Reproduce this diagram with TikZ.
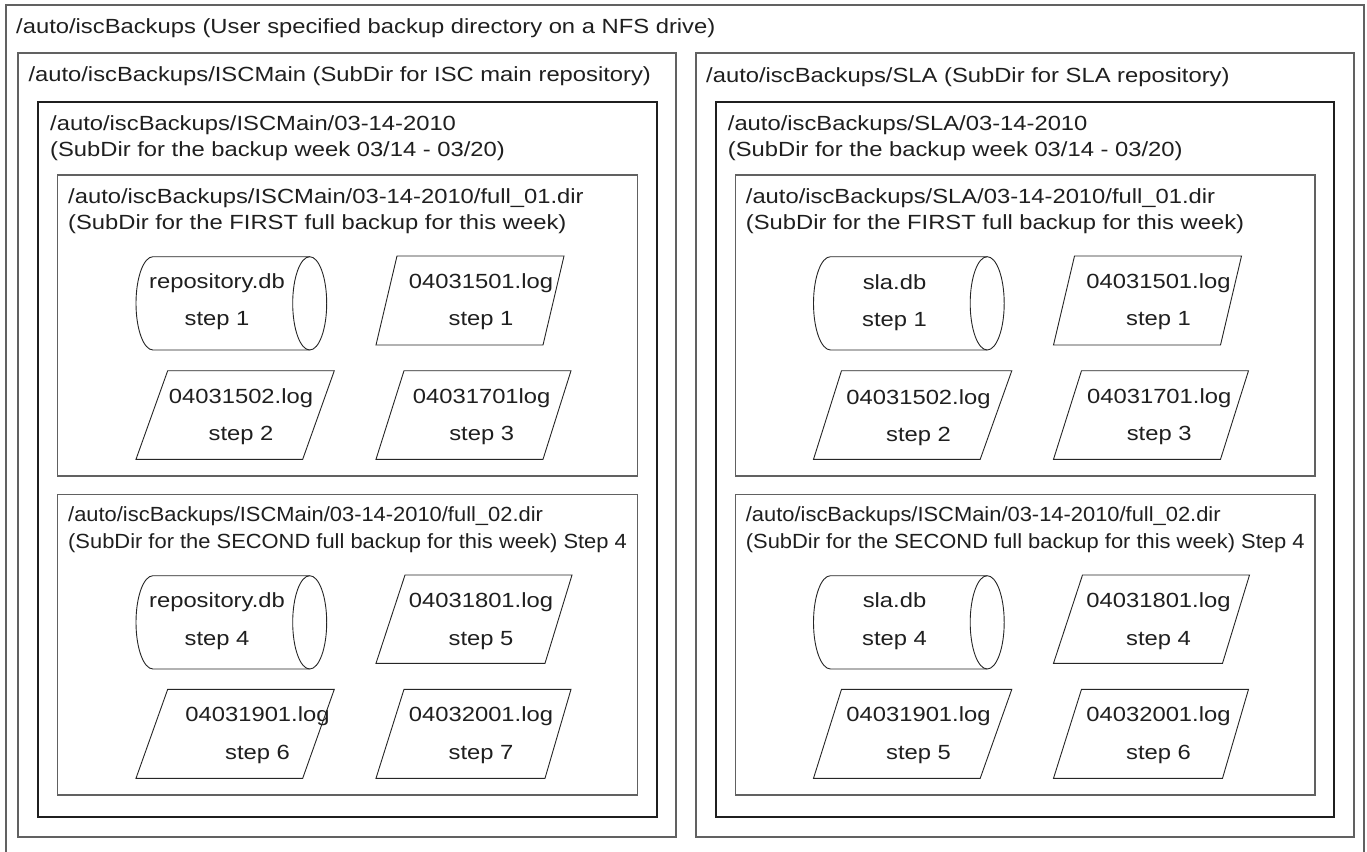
\documentclass[tikz,border=0pt]{standalone}
\usepackage{graphicx}
\usepackage{fontspec}
\setmainfont[FakeStretch=1.16]{Liberation Sans}
\newcommand\narrowtext[1]{\scalebox{0.921}[1]{#1}}
\begin{document}
\begin{tikzpicture}[x=1pt,y=-1pt,
  thinbox/.style={draw=black!62,line width=1.2pt},
  weekbox/.style={draw=black!88,line width=2.6pt},
  outline/.style={draw=black!85,line width=0.9pt},
  lt/.style={anchor=base west,inner sep=0pt,text=black!88,font=\fontsize{20.5}{24}\selectfont},
  ct/.style={anchor=base,inner sep=0pt,text=black!88,font=\fontsize{20.5}{24}\selectfont}]
\useasboundingbox (0,0) rectangle (1367,851);
\fill[white] (0,0) rectangle (1367,851);
% outer box (open at the bottom)
\begin{scope}
\clip (0,0) rectangle (1367,851);
\draw[thinbox] (6,860) -- (6,5) -- (1364,5) -- (1364,860);
\end{scope}
\node[lt] (tOuter) at (16,33.3) {/auto/iscBackups (User specified backup directory on a NFS drive)};
% column boxes
\draw[thinbox] (18,53) rectangle (676,837);
\draw[thinbox] (696,53) rectangle (1354,837);
\node[lt] (tLcol) at (28.3,81.7) {/auto/iscBackups/ISCMain (SubDir for ISC main repository)};
\node[lt] (tRcol) at (706,82) {/auto/iscBackups/SLA (SubDir for SLA repository)};
% week boxes
\draw[weekbox] (38,102) rectangle (657,817);
\draw[weekbox] (716,102) rectangle (1334,817);
\node[lt] (tLw1) at (50,130) {/auto/iscBackups/ISCMain/03-14-2010};
\node[lt] (tLw2) at (50,156) {(SubDir for the backup week 03/14 - 03/20)};
\node[lt] (tRw1) at (727.7,130) {/auto/iscBackups/SLA/03-14-2010};
\node[lt] (tRw2) at (727.7,156) {(SubDir for the backup week 03/14 - 03/20)};
% full backup boxes
\draw[thinbox] (57.7,175) rectangle (637.3,476);
\draw[thinbox] (57.7,494.5) rectangle (637.3,795);
\draw[thinbox] (735.3,175) rectangle (1315,476);
\draw[thinbox] (735.3,494.5) rectangle (1315,795);
\node[lt] (tLf1a) at (68,203) {/auto/iscBackups/ISCMain/03-14-2010/full\_01.dir};
\node[lt] (tLf1b) at (68,229) {(SubDir for the FIRST full backup for this week)};
\node[lt] (tLf2a) at (68,521.7) {\narrowtext{/auto/iscBackups/ISCMain/03-14-2010/full\_02.dir}};
\node[lt] (tLf2b) at (68,548) {\narrowtext{(SubDir for the SECOND full backup for this week) Step 4}};
\node[lt] (tRf1a) at (745.7,203) {/auto/iscBackups/SLA/03-14-2010/full\_01.dir};
\node[lt] (tRf1b) at (745.7,229) {(SubDir for the FIRST full backup for this week)};
\node[lt] (tRf2a) at (745.7,521.7) {\narrowtext{/auto/iscBackups/ISCMain/03-14-2010/full\_02.dir}};
\node[lt] (tRf2b) at (745.7,548) {\narrowtext{(SubDir for the SECOND full backup for this week) Step 4}};
% ---------- left inner shapes ----------
% cylinders
\draw[outline] (309.7,256.7) -- (153,256.7) .. controls (143.6,256.7) and (136,277.6) .. (136,303.35) .. controls (136,329.1) and (143.6,350) .. (153,350) -- (309.7,350);
\draw[outline] (309.7,303.35) ellipse [x radius=17,y radius=46.65];
\draw[outline] (309.7,575.7) -- (153,575.7) .. controls (143.6,575.7) and (136,596.6) .. (136,622.35) .. controls (136,648.1) and (143.6,669) .. (153,669) -- (309.7,669);
\draw[outline] (309.7,622.35) ellipse [x radius=17,y radius=46.65];
% parallelograms
\draw[outline] (397,256) -- (564,256) -- (543,345) -- (376,345) -- cycle;
\draw[outline] (167.7,370.7) -- (334.3,370.7) -- (302.7,459.3) -- (136,459.3) -- cycle;
\draw[outline] (404,370.7) -- (571,370.7) -- (543,459.3) -- (376,459.3) -- cycle;
\draw[outline] (405,575) -- (572,575) -- (545,663.3) -- (376,663.3) -- cycle;
\draw[outline] (167.7,689.3) -- (334.3,689.3) -- (302.7,778.3) -- (136,778.3) -- cycle;
\draw[outline] (404,689.3) -- (571,689.3) -- (545,778.3) -- (376,778.3) -- cycle;
% texts
\node[ct] (a1) at (217,288) {repository.db};
\node[ct] (a1s) at (217,325) {step 1};
\node[ct] (a2) at (481,288) {04031501.log};
\node[ct] (a2s) at (481,325) {step 1};
\node[ct] (a3) at (241,403) {04031502.log};
\node[ct] (a3s) at (241,440) {step 2};
\node[ct] (a4) at (481.7,403) {04031701log};
\node[ct] (a4s) at (481.7,440) {step 3};
\node[ct] (b1) at (217,607.3) {repository.db};
\node[ct] (b1s) at (217,645) {step 4};
\node[ct] (b2) at (481,607.3) {04031801.log};
\node[ct] (b2s) at (481,645) {step 5};
\node[ct] (b3) at (257.5,721.7) {04031901.log};
\node[ct] (b3s) at (257.5,759.3) {step 6};
\node[ct] (b4) at (481,721.7) {04032001.log};
\node[ct] (b4s) at (481,759.3) {step 7};
% ---------- right inner shapes ----------
\begin{scope}[xshift=677.5]
\draw[outline] (309.7,256.7) -- (153,256.7) .. controls (143.6,256.7) and (136,277.6) .. (136,303.35) .. controls (136,329.1) and (143.6,350) .. (153,350) -- (309.7,350);
\draw[outline] (309.7,303.35) ellipse [x radius=17,y radius=46.65];
\draw[outline] (309.7,575.7) -- (153,575.7) .. controls (143.6,575.7) and (136,596.6) .. (136,622.35) .. controls (136,648.1) and (143.6,669) .. (153,669) -- (309.7,669);
\draw[outline] (309.7,622.35) ellipse [x radius=17,y radius=46.65];
\draw[outline] (397,256) -- (564,256) -- (543,345) -- (376,345) -- cycle;
\draw[outline] (164,370.7) -- (334.3,370.7) -- (302.7,459.3) -- (136,459.3) -- cycle;
\draw[outline] (404,370.7) -- (571,370.7) -- (543,459.3) -- (376,459.3) -- cycle;
\draw[outline] (405,575) -- (572,575) -- (545,663.3) -- (376,663.3) -- cycle;
\draw[outline] (164,689.3) -- (334.3,689.3) -- (302.7,778.3) -- (136,778.3) -- cycle;
\draw[outline] (404,689.3) -- (571,689.3) -- (545,778.3) -- (376,778.3) -- cycle;
\node[ct] (c1) at (217,289) {sla.db};
\node[ct] (c1s) at (217,326) {step 1};
\node[ct] (c2) at (481,288) {04031501.log};
\node[ct] (c2s) at (481,325) {step 1};
\node[ct] (c3) at (241,404) {04031502.log};
\node[ct] (c3s) at (241,441) {step 2};
\node[ct] (c4) at (481.7,403) {04031701.log};
\node[ct] (c4s) at (481.7,440) {step 3};
\node[ct] (d1) at (217,607.3) {sla.db};
\node[ct] (d1s) at (217,645) {step 4};
\node[ct] (d2) at (481,607.3) {04031801.log};
\node[ct] (d2s) at (481,645) {step 4};
\node[ct] (d3) at (241,721.7) {04031901.log};
\node[ct] (d3s) at (241,759.3) {step 5};
\node[ct] (d4) at (481,721.7) {04032001.log};
\node[ct] (d4s) at (481,759.3) {step 6};
\end{scope}
\end{tikzpicture}
\end{document}
